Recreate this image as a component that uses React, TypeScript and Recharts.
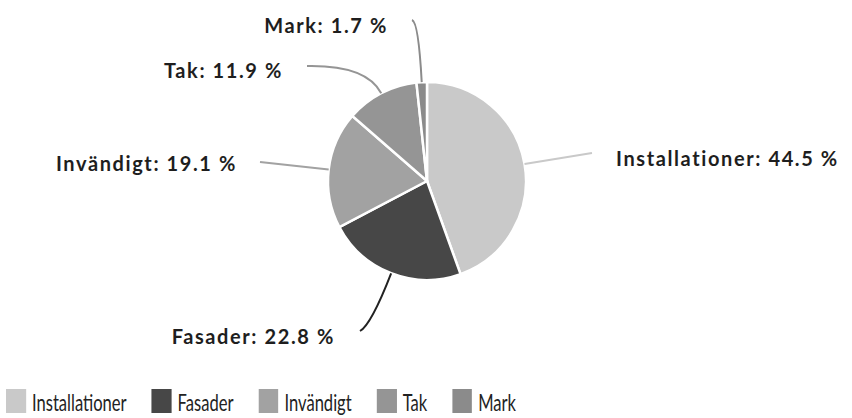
import React from "react";
import { PieChart, Pie, Cell, Legend } from "recharts";

const categories = ["Installationer", "Fasader", "Invändigt", "Tak", "Mark"];
const shares = [44.5, 22.8, 19.1, 11.9, 1.7];
const colors = ["#c9c9c9", "#474747", "#a2a2a2", "#959595", "#8b8b8b"];

const data = categories.map((name, i) => ({ name, value: shares[i] }));

// label layout (offsets relative to pie centre), styling only
const LABEL_LAYOUT = [
  { ctrlR: 10, end: [165, -28], text: [189, -23], anchor: "start" },
  { ctrlR: 55, end: [-67, 150], text: [-92, 154.5], anchor: "end" },
  { ctrlR: 10, end: [-167, -19], text: [-190, -18.5], anchor: "end" },
  { ctrlR: 32, end: [-120, -115], text: [-144, -111.5], anchor: "end" },
  { ctrlR: 60, end: [-15, -161], text: [-39, -156.5], anchor: "end" },
];

const RAD = Math.PI / 180;

const renderLabel = (props: any) => {
  const { cx, cy, midAngle, outerRadius, index, name, value } = props;
  const lay = LABEL_LAYOUT[index];
  const cos = Math.cos(-midAngle * RAD);
  const sin = Math.sin(-midAngle * RAD);
  const sx = cx + outerRadius * cos;
  const sy = cy + outerRadius * sin;
  const qx = cx + (outerRadius + lay.ctrlR) * cos;
  const qy = cy + (outerRadius + lay.ctrlR) * sin;
  const ex = cx + lay.end[0];
  const ey = cy + lay.end[1];
  return (
    <g key={`lbl-${index}`}>
      <path
        d={`M${sx},${sy} Q${qx},${qy} ${ex},${ey}`}
        fill="none"
        stroke={colors[index] === "#474747" ? "#222" : colors[index]}
        strokeWidth={2}
      />
      <text
        x={cx + lay.text[0]}
        y={cy + lay.text[1]}
        textAnchor={lay.anchor}
        dominantBaseline="central"
        fill="#1e1e1e"
        fontFamily="Lato, sans-serif"
        fontWeight={700}
        fontSize={20}
        letterSpacing={1.6}
      >
        {`${name}: ${value} %`}
      </text>
    </g>
  );
};

const SX = 0.72;

const renderLegend = () => (
  <div
    style={{
      display: "flex",
      alignItems: "center",
      fontFamily: "Lato, sans-serif",
      fontSize: 23,
      color: "#222",
      transform: `scaleX(${SX})`,
      transformOrigin: "0 0",
      whiteSpace: "nowrap",
    }}
  >
    {categories.map((c, i) => (
      <div key={c} style={{ display: "flex", alignItems: "center", marginRight: 25 / SX }}>
        <span style={{ display: "inline-block", width: 20 / SX, height: 24, background: colors[i], marginRight: 6 / SX }} />
        <span style={{ lineHeight: "24px", position: "relative", top: 1 }}>{c}</span>
      </div>
    ))}
  </div>
);

export default function App() {
  return (
    <div style={{ position: "absolute", left: 0, top: 0, width: 852, height: 418, background: "#fff" }}>
      <PieChart width={852} height={418} margin={{ top: 0, right: 0, bottom: 0, left: 0 }}>
        <Pie
          data={data}
          dataKey="value"
          nameKey="name"
          cx={427}
          cy={181}
          outerRadius={99}
          startAngle={90}
          endAngle={-270}
          stroke="#ffffff"
          strokeWidth={2.5}
          label={renderLabel}
          labelLine={false}
          isAnimationActive={false}
        >
          {data.map((d, i) => (
            <Cell key={d.name} fill={colors[i]} />
          ))}
        </Pie>
        <Legend content={renderLegend} wrapperStyle={{ position: "absolute", left: 6, top: 389, width: 1100 }} />
      </PieChart>
    </div>
  );
}
